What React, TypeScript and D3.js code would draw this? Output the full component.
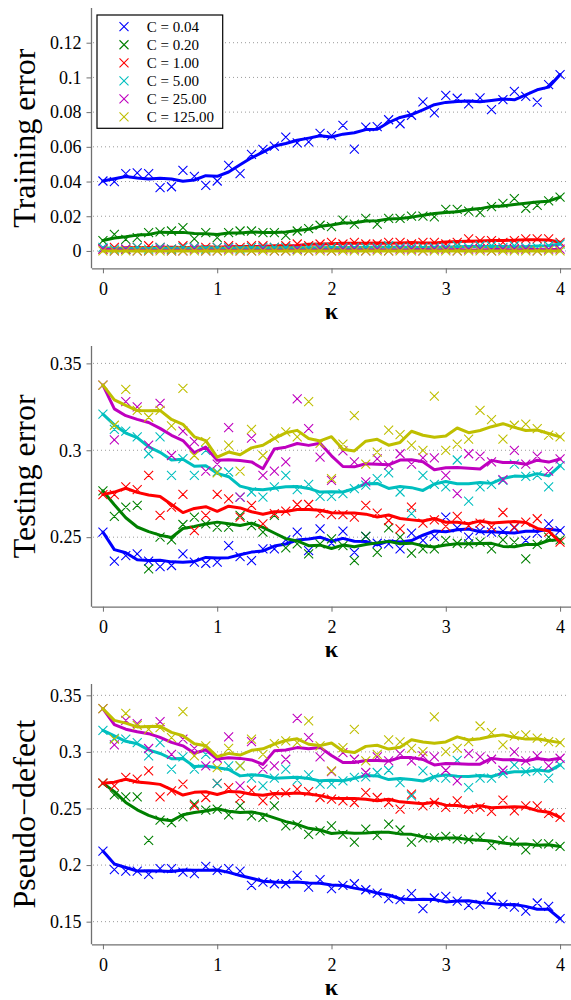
import * as d3 from "d3";
import React, { useEffect, useRef } from "react";

// kappa grid (x values)
const kappa = [0, 0.1, 0.2, 0.3, 0.4, 0.5, 0.6, 0.7, 0.8, 0.9, 1, 1.1, 1.2, 1.3, 1.4, 1.5, 1.6, 1.7, 1.8, 1.9, 2,
  2.1, 2.2, 2.3, 2.4, 2.5, 2.6, 2.7, 2.8, 2.9, 3, 3.1, 3.2, 3.3, 3.4, 3.5, 3.6, 3.7, 3.8, 3.9, 4];

const seriesNames = ["C = 0.04", "C = 0.20", "C = 1.00", "C = 5.00", "C = 25.00", "C = 125.00"];
const seriesColors = ["#0000ff", "#008000", "#ff0000", "#00bfbf", "#bf00bf", "#bfbf00"];
const xTicks = [0, 1, 2, 3, 4];

// Training error
const trainC004 = [0.0403, 0.040, 0.0445, 0.045, 0.0445, 0.0365, 0.037, 0.0464, 0.043, 0.0378, 0.0403, 0.0493, 0.0445, 0.0556, 0.0585, 0.0604, 0.0656, 0.0623, 0.0629, 0.0677, 0.0665, 0.0723, 0.0587, 0.0713, 0.0717, 0.0756, 0.0733, 0.0782, 0.0859, 0.0796, 0.0897, 0.088, 0.0848, 0.0882, 0.0815, 0.0872, 0.092, 0.0891, 0.0857, 0.0959, 0.1016];
const trainC020 = [0.006, 0.0096, 0.0067, 0.0077, 0.0106, 0.011, 0.0115, 0.0134, 0.007, 0.0106, 0.0077, 0.0106, 0.0115, 0.0115, 0.0106, 0.0106, 0.009, 0.0115, 0.0129, 0.0148, 0.014, 0.0177, 0.0154, 0.0188, 0.0154, 0.0188, 0.0188, 0.0201, 0.0201, 0.0196, 0.024, 0.024, 0.023, 0.0221, 0.0255, 0.0274, 0.0301, 0.0246, 0.0263, 0.0288, 0.031];
const trainC1 = [0.001, 0.002, 0.001, 0.002, 0.003, 0.002, 0.001, 0.003, 0.002, 0.002, 0.002, 0.003, 0.002, 0.003, 0.003, 0.002, 0.003, 0.004, 0.003, 0.004, 0.005, 0.004, 0.005, 0.004, 0.004, 0.005, 0.005, 0.004, 0.005, 0.005, 0.004, 0.005, 0.007, 0.006, 0.006, 0.005, 0.006, 0.007, 0.007, 0.007, 0.005];
const trainC5 = [0.002, 0.001, 0.001, 0.002, 0.001, 0.002, 0.001, 0.002, 0.002, 0.001, 0.002, 0.002, 0.001, 0.002, 0.002, 0.002, 0.002, 0.001, 0.002, 0.002, 0.002, 0.002, 0.002, 0.002, 0.002, 0.003, 0.002, 0.002, 0.002, 0.002, 0.002, 0.003, 0.002, 0.003, 0.003, 0.002, 0.003, 0.002, 0.002, 0.003, 0.004];
const trainC25 = [0.001, 0, 0.001, 0, 0, 0.001, 0, 0, 0.001, 0, 0, 0.001, 0, 0, 0.001, 0, 0, 0.001, 0, 0.001, 0, 0.001, 0.001, 0, 0.001, 0, 0.001, 0.001, 0, 0.001, 0.001, 0, 0.001, 0.001, 0, 0.001, 0.001, 0.001, 0, 0.001, 0.001];
const trainC125 = [0, 0, 0, 0, 0, 0, 0, 0, 0, 0, 0, 0, 0, 0, 0, 0, 0, 0, 0, 0, 0, 0, 0, 0, 0, 0, 0, 0, 0, 0, 0, 0, 0, 0, 0, 0, 0, 0, 0, 0, 0];

// Testing error
const testC004 = [0.2529, 0.2362, 0.2394, 0.2404, 0.2362, 0.2331, 0.2337, 0.2404, 0.2356, 0.235, 0.2356, 0.2452, 0.2388, 0.2365, 0.2433, 0.2433, 0.2485, 0.2529, 0.2423, 0.2548, 0.2465, 0.2535, 0.2413, 0.2504, 0.2465, 0.2462, 0.2433, 0.2523, 0.2481, 0.2504, 0.2615, 0.2554, 0.25, 0.2538, 0.2529, 0.2535, 0.2554, 0.2481, 0.2523, 0.2577, 0.2538];
const testC020 = [0.2766, 0.262, 0.2673, 0.2683, 0.2317, 0.25, 0.2485, 0.2573, 0.2615, 0.2577, 0.2558, 0.2558, 0.2625, 0.2567, 0.2529, 0.2625, 0.2438, 0.2462, 0.2404, 0.2462, 0.249, 0.2452, 0.2365, 0.2504, 0.2413, 0.2554, 0.25, 0.2408, 0.2433, 0.2433, 0.2481, 0.2465, 0.2462, 0.2471, 0.2433, 0.2485, 0.2471, 0.2375, 0.2458, 0.25, 0.2485];
const testC1 = [0.2745, 0.2745, 0.2789, 0.2773, 0.2856, 0.2625, 0.2673, 0.2746, 0.2538, 0.2625, 0.2746, 0.2721, 0.2615, 0.2683, 0.2577, 0.2635, 0.265, 0.2688, 0.2688, 0.2638, 0.263, 0.263, 0.2615, 0.2683, 0.2638, 0.2596, 0.2548, 0.2673, 0.2581, 0.26, 0.2562, 0.262, 0.2567, 0.2581, 0.2558, 0.2642, 0.2558, 0.2587, 0.2606, 0.2529, 0.2471];
const testC5 = [0.3208, 0.312, 0.311, 0.3077, 0.298, 0.3077, 0.2856, 0.2952, 0.2856, 0.30, 0.2875, 0.2875, 0.273, 0.276, 0.273, 0.279, 0.2856, 0.2773, 0.2804, 0.2735, 0.2735, 0.275, 0.278, 0.28, 0.2837, 0.287, 0.276, 0.2635, 0.2856, 0.2804, 0.279, 0.2944, 0.2708, 0.2789, 0.2804, 0.2827, 0.292, 0.285, 0.2856, 0.279, 0.2912];
const testC25 = [0.3375, 0.306, 0.328, 0.325, 0.303, 0.327, 0.297, 0.311, 0.305, 0.288, 0.292, 0.313, 0.273, 0.307, 0.2856, 0.288, 0.2933, 0.3296, 0.3125, 0.296, 0.2827, 0.2996, 0.2933, 0.2818, 0.295, 0.2914, 0.298, 0.292, 0.2956, 0.2956, 0.2856, 0.275, 0.298, 0.2966, 0.2933, 0.2831, 0.30, 0.292, 0.2966, 0.288, 0.295];
const testC125 = [0.3375, 0.3144, 0.335, 0.323, 0.319, 0.323, 0.314, 0.3356, 0.297, 0.305, 0.287, 0.303, 0.288, 0.312, 0.297, 0.307, 0.3106, 0.3077, 0.328, 0.304, 0.2837, 0.3035, 0.32, 0.292, 0.299, 0.3116, 0.309, 0.303, 0.30, 0.3312, 0.30, 0.3035, 0.3064, 0.323, 0.3177, 0.3064, 0.3144, 0.315, 0.3125, 0.3087, 0.3077];

// Pseudo-defect
const pdC004 = [0.2124, 0.1959, 0.1947, 0.1947, 0.1918, 0.1968, 0.1968, 0.1938, 0.1924, 0.1988, 0.1953, 0.1968, 0.1947, 0.1821, 0.185, 0.1835, 0.1835, 0.1909, 0.1806, 0.1871, 0.1791, 0.1821, 0.1835, 0.1782, 0.1753, 0.1703, 0.1694, 0.1747, 0.1615, 0.1709, 0.1724, 0.1682, 0.1644, 0.1653, 0.1718, 0.1653, 0.1629, 0.1594, 0.1665, 0.1635, 0.1526];
const pdC020 = [0.2724, 0.2621, 0.2603, 0.2603, 0.2218, 0.2397, 0.2376, 0.2426, 0.2538, 0.2485, 0.2494, 0.2444, 0.2524, 0.2435, 0.2421, 0.2524, 0.2347, 0.2356, 0.2271, 0.2303, 0.2347, 0.2271, 0.2203, 0.2318, 0.2262, 0.2362, 0.231, 0.2203, 0.2241, 0.2241, 0.2253, 0.2232, 0.2226, 0.2247, 0.2174, 0.2218, 0.2203, 0.2135, 0.2188, 0.2188, 0.2165];
const pdC1 = [0.2724, 0.27, 0.2774, 0.2759, 0.2832, 0.2603, 0.2656, 0.2715, 0.2524, 0.2597, 0.2721, 0.2685, 0.2591, 0.2662, 0.2568, 0.2621, 0.2641, 0.2671, 0.265, 0.2597, 0.2582, 0.2568, 0.2553, 0.2641, 0.2597, 0.2553, 0.2494, 0.2626, 0.2524, 0.2553, 0.2509, 0.2568, 0.2494, 0.2509, 0.2474, 0.2574, 0.2479, 0.2524, 0.2524, 0.2456, 0.2421];
const pdC5 = [0.3191, 0.312, 0.3112, 0.3082, 0.2965, 0.3082, 0.2847, 0.2956, 0.2847, 0.2979, 0.2721, 0.2876, 0.2876, 0.2768, 0.27, 0.2768, 0.2847, 0.275, 0.2797, 0.2715, 0.2715, 0.2744, 0.2774, 0.2779, 0.2818, 0.2838, 0.2729, 0.2612, 0.2832, 0.2774, 0.2768, 0.2926, 0.2685, 0.2768, 0.2768, 0.2809, 0.2885, 0.2826, 0.2832, 0.2768, 0.2885];
const pdC25 = [0.3382, 0.3062, 0.3279, 0.325, 0.303, 0.3268, 0.2979, 0.3112, 0.3032, 0.2876, 0.2944, 0.3132, 0.27, 0.3091, 0.2847, 0.2876, 0.2935, 0.3297, 0.3126, 0.2956, 0.2826, 0.2994, 0.2935, 0.2818, 0.2956, 0.2921, 0.2985, 0.2921, 0.2965, 0.2956, 0.2838, 0.2744, 0.2985, 0.2956, 0.2935, 0.2838, 0.30, 0.2921, 0.2965, 0.2876, 0.2944];
const pdC125 = [0.3382, 0.3112, 0.3341, 0.3235, 0.32, 0.3215, 0.3126, 0.3356, 0.2965, 0.3053, 0.2862, 0.3032, 0.2876, 0.3112, 0.2979, 0.3073, 0.3097, 0.3082, 0.3274, 0.3053, 0.2832, 0.3038, 0.32, 0.2921, 0.2979, 0.3106, 0.3088, 0.3032, 0.3003, 0.3309, 0.3003, 0.3032, 0.3091, 0.3229, 0.317, 0.3062, 0.3141, 0.315, 0.3121, 0.3091, 0.3082];

const trainTicks = [0, 0.02, 0.04, 0.06, 0.08, 0.1, 0.12];
const testTicks = [0.25, 0.3, 0.35];
const pdTicks = [0.15, 0.2, 0.25, 0.3, 0.35];

const panels = [
  { label: "Training error", top: 8, bottom: 268.3, domain: [-0.01, 0.14], ticks: trainTicks,
    series: [trainC004, trainC020, trainC1, trainC5, trainC25, trainC125], legend: true },
  { label: "Testing error", top: 346, bottom: 606.7, domain: [0.21, 0.36], ticks: testTicks,
    series: [testC004, testC020, testC1, testC5, testC25, testC125], legend: false },
  { label: "Pseudo\u2212defect", top: 684, bottom: 944.3, domain: [0.13, 0.36], ticks: pdTicks,
    series: [pdC004, pdC020, pdC1, pdC5, pdC25, pdC125], legend: false },
];

const serif = "'Liberation Serif', 'DejaVu Serif', serif";

// moving average, span 5, shrinking at the ends
function smooth(v: number[]) {
  const n = v.length;
  return v.map((_, i) => {
    const h = Math.min(2, i, n - 1 - i);
    return d3.mean(v.slice(i - h, i + h + 1)) as number;
  });
}

function cross(cx: number, cy: number, r: number) {
  return `M${cx - r},${cy - r}L${cx + r},${cy + r}M${cx - r},${cy + r}L${cx + r},${cy - r}`;
}

function App() {
  const ref = useRef<SVGSVGElement>(null);

  useEffect(() => {
    const svg = d3.select(ref.current);
    svg.selectAll("*").remove();

    const x = d3.scaleLinear().domain([-0.1, 4.1]).range([91.5, 571.5]);
    const fmt = (d: any) => String(+(+d).toFixed(2));

    panels.forEach((p) => {
      const y = d3.scaleLinear().domain(p.domain).range([p.bottom, p.top]);
      const g = svg.append("g");

      // dotted grid
      g.selectAll(".grid").data(p.ticks).enter().append("line")
        .attr("x1", 93).attr("x2", 568)
        .attr("y1", (d) => y(d)).attr("y2", (d) => y(d))
        .attr("stroke", "#9a9a9a").attr("stroke-width", 1)
        .attr("stroke-dasharray", "1,3");

      // series
      p.series.forEach((vals, si) => {
        const col = seriesColors[si];
        g.append("path")
          .attr("d", vals.map((v, i) => cross(x(kappa[i]), y(v), 4.5)).join(""))
          .attr("fill", "none").attr("stroke", col).attr("stroke-width", 1.1);
        const sm = smooth(vals);
        const line = d3.line<number>().x((_, i) => x(kappa[i])).y((d) => y(d));
        g.append("path")
          .attr("d", line(sm))
          .attr("fill", "none").attr("stroke", col).attr("stroke-width", 3)
          .attr("stroke-linejoin", "round").attr("stroke-linecap", "round");
      });

      // axes
      const ax = g.append("g").attr("transform", "translate(91.5,0)")
        .call(d3.axisLeft(y).tickValues(p.ticks).tickFormat(fmt).tickSize(5).tickSizeOuter(0).tickPadding(5));
      const bx = g.append("g").attr("transform", `translate(0,${p.bottom})`)
        .call(d3.axisBottom(x).tickValues(xTicks).tickFormat(fmt).tickSize(5).tickSizeOuter(0).tickPadding(9));
      [ax, bx].forEach((a) => {
        a.select(".domain").attr("stroke", "#707070").attr("stroke-width", 1.3);
        a.selectAll(".tick line").attr("stroke", "#707070").attr("stroke-width", 1);
        a.selectAll(".tick text").attr("font-family", serif).attr("font-size", 18).attr("fill", "#000");
      });
      // extend y axis to the top of the panel
      ax.select(".domain").attr("d", `M0,${p.top}V${p.bottom}`);

      // labels
      g.append("text")
        .attr("transform", `translate(35,${(p.top + p.bottom) / 2}) rotate(-90)`)
        .attr("text-anchor", "middle").attr("font-family", serif).attr("font-size", 32)
        .text(p.label);
      g.append("text")
        .attr("x", x(2)).attr("y", p.bottom + 50.5)
        .attr("text-anchor", "middle").attr("font-family", serif).attr("font-size", 24)
        .attr("font-weight", "bold")
        .text("\u03ba");

      if (p.legend) {
        const lg = g.append("g");
        lg.append("rect").attr("x", 97).attr("y", 15).attr("width", 125.7).attr("height", 113.3)
          .attr("fill", "#fff").attr("stroke", "#000").attr("stroke-width", 1.2);
        seriesNames.forEach((name, k) => {
          const cy = 26.7 + 18.05 * k;
          lg.append("path").attr("d", cross(124, cy, 4.5))
            .attr("fill", "none").attr("stroke", seriesColors[k]).attr("stroke-width", 1.1);
          lg.append("text").attr("x", 146.7).attr("y", cy + 5)
            .attr("font-family", serif).attr("font-size", 15).attr("fill", "#000")
            .text(name);
        });
      }
    });
  }, []);

  return (
    <svg ref={ref} width={571} height={1000}
      style={{ position: "absolute", left: 0, top: 0, background: "#fff" }} />
  );
}

export default App;
